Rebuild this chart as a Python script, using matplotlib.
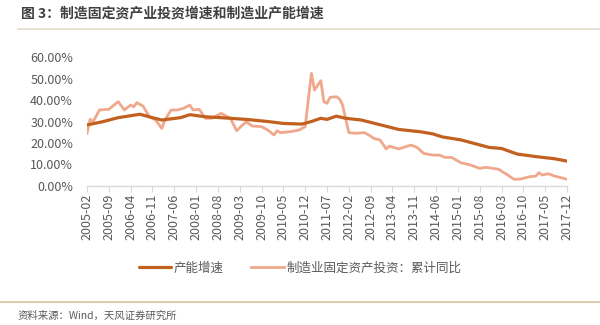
import matplotlib
matplotlib.use("Agg")
import matplotlib.pyplot as plt
from matplotlib.lines import Line2D
from matplotlib.ticker import FuncFormatter

plt.rcParams['font.family'] = ['Noto Sans CJK SC', 'DejaVu Sans']

# 产能增速 (dark line), % yoy
cap_dates = ["2005-02", "2005-07", "2005-12", "2006-07", "2006-11", "2007-02", "2007-08",
             "2007-11", "2008-04", "2008-09", "2009-05", "2009-12", "2010-05", "2010-11",
             "2011-02", "2011-05", "2011-07", "2011-10", "2012-01", "2012-06", "2012-12",
             "2013-06", "2014-01", "2014-05", "2014-08", "2015-02", "2015-11", "2016-03",
             "2016-08", "2017-02", "2017-08", "2017-12"]
cap_vals = [28.4, 29.9, 31.8, 33.4, 31.8, 30.7, 31.8,
            33.2, 32.2, 31.8, 31.0, 30.0, 29.1, 28.8,
            30.0, 31.5, 31.0, 32.5, 31.5, 30.7, 28.5,
            26.3, 25.2, 24.2, 22.8, 21.4, 17.9, 17.4,
            14.8, 13.6, 12.6, 11.5]

# 制造业固定资产投资：累计同比 (light line), %
inv_dates = ["2005-02", "2005-03", "2005-04", "2005-06", "2005-09", "2005-12", "2006-02",
             "2006-04", "2006-05", "2006-06", "2006-08", "2006-10", "2006-12", "2007-02",
             "2007-03", "2007-05", "2007-07", "2007-09", "2007-11", "2007-12", "2008-02",
             "2008-04", "2008-06", "2008-09", "2008-12", "2009-02", "2009-05", "2009-07",
             "2009-10", "2009-12", "2010-02", "2010-03", "2010-04", "2010-07", "2010-10",
             "2010-12", "2011-02", "2011-03", "2011-05", "2011-06", "2011-07", "2011-08",
             "2011-10", "2011-11", "2011-12", "2012-02", "2012-04", "2012-07", "2012-09",
             "2012-10", "2012-12", "2013-02", "2013-03", "2013-06", "2013-10", "2013-12",
             "2014-02", "2014-05", "2014-07", "2014-09", "2014-11", "2015-02", "2015-05",
             "2015-08", "2015-10", "2016-02", "2016-05", "2016-07", "2016-09", "2016-12",
             "2017-02", "2017-03", "2017-04", "2017-06", "2017-08", "2017-10", "2017-12"]
inv_vals = [24.5, 31.0, 30.0, 35.4, 35.7, 39.3, 35.4,
            37.7, 36.9, 38.8, 37.2, 32.2, 30.7, 26.8,
            30.7, 35.4, 35.4, 36.2, 37.7, 35.4, 35.7,
            31.5, 31.5, 33.8, 31.5, 25.7, 29.9, 27.9,
            27.6, 26.0, 23.7, 25.7, 24.8, 25.2, 26.0,
            27.6, 52.5, 44.7, 49.1, 39.3, 38.5, 41.3,
            41.6, 40.6, 37.7, 24.8, 24.5, 24.8, 23.2,
            22.1, 21.4, 17.2, 18.5, 17.2, 19.0, 17.8,
            15.1, 14.3, 14.3, 13.2, 13.2, 10.7, 9.7,
            8.1, 8.6, 7.7, 5.0, 3.0, 3.1, 4.2,
            4.5, 6.1, 5.0, 5.6, 4.5, 3.8, 3.0]

tick_labels = ["2005-02", "2005-09", "2006-04", "2006-11", "2007-06", "2008-01", "2008-08",
               "2009-03", "2009-10", "2010-05", "2010-12", "2011-07", "2012-02", "2012-09",
               "2013-04", "2013-11", "2014-06", "2015-01", "2015-08", "2016-03", "2016-10",
               "2017-05", "2017-12"]


def month_idx(s):
    y, m = s.split("-")
    return (int(y) - 2005) * 12 + int(m) - 2


dark = "#C2601F"
light = "#F0A88C"
grey = "#595959"

fig = plt.figure(figsize=(6, 3.25), dpi=100)
ax = fig.add_axes([0.145, 0.4286, 0.80, 0.395])

ax.plot([month_idx(d) for d in cap_dates], [v / 100 for v in cap_vals],
        color=dark, lw=2.3, label="产能增速", zorder=3, solid_capstyle="round")
ax.plot([month_idx(d) for d in inv_dates], [v / 100 for v in inv_vals],
        color=light, lw=2.0, label="制造业固定资产投资：累计同比", zorder=2)

ax.set_xlim(0, month_idx("2017-12"))
ax.set_ylim(0, 0.6)
ax.set_yticks([0, 0.1, 0.2, 0.3, 0.4, 0.5, 0.6])
ax.yaxis.set_major_formatter(FuncFormatter(lambda v, p: f"{v * 100:.2f}%"))
ax.set_xticks([month_idx(t) for t in tick_labels])
ax.set_xticklabels(tick_labels, rotation=90)

for side in ["top", "right", "left"]:
    ax.spines[side].set_visible(False)
ax.spines["bottom"].set_color("#D9D9D9")
ax.spines["bottom"].set_linewidth(1)
ax.tick_params(axis="y", length=0, labelsize=9, colors=grey, pad=10)
ax.tick_params(axis="x", length=4, color="#D9D9D9", labelsize=9, labelcolor=grey, pad=2)

fig.legend(loc="center", bbox_to_anchor=(0.5, 0.175), ncol=2, frameon=False,
           fontsize=9, labelcolor=grey, handlelength=2.6, handletextpad=0.2,
           columnspacing=2.2)

fig.text(0.035, 0.957, "图 3：制造固定资产业投资增速和制造业产能增速", fontsize=10,
         fontweight="bold", color="#404040", va="center")
fig.add_artist(Line2D([0.03, 1.0], [0.91, 0.91], color="#E3DCC8", lw=1.2))
fig.add_artist(Line2D([0.0, 1.0], [0.072, 0.072], color="#DCCDAE", lw=1.5))
fig.text(0.03, 0.028, "资料来源：Wind，天风证券研究所", fontsize=7.5, color=grey, va="center")

fig.savefig("out.png", dpi=100, facecolor="white")
